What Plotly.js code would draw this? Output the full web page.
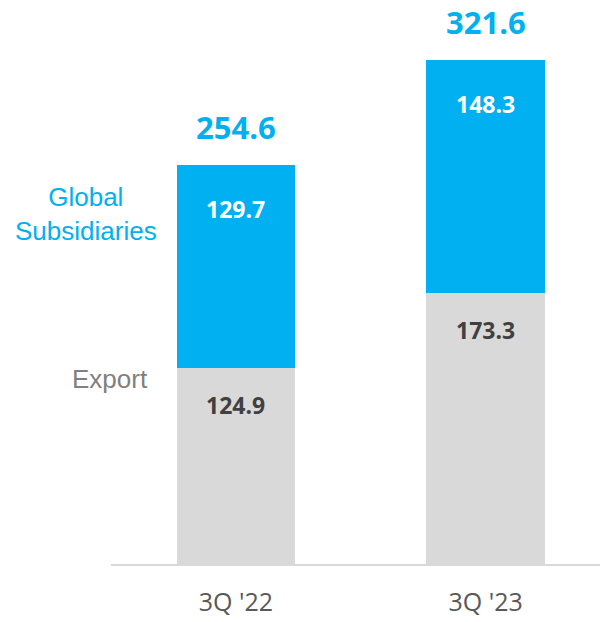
<!DOCTYPE html>
<html>
<head>
<meta charset="utf-8">
<script src="https://cdn.plot.ly/plotly-3.0.1.min.js"></script>
<style>html,body{margin:0;padding:0;background:#fff;}#chart{width:600px;height:622px;}</style>
</head>
<body>
<div id="chart"></div>
<script>
const categories = ["3Q '22", "3Q '23"];
const exportVals = [124.9, 173.3];
const globalVals = [129.7, 148.3];
const totals = [254.6, 321.6];
const seriesNames = ["Export", "Global Subsidiaries"];

const BLUE = '#00b0f0', GREY = '#d9d9d9';

const traces = [
  {type:'bar', x:categories, y:exportVals, name:seriesNames[0], marker:{color:GREY}, width:0.475, hoverinfo:'skip'},
  {type:'bar', x:categories, y:globalVals, name:seriesNames[1], marker:{color:BLUE}, width:0.475, hoverinfo:'skip'}
];

const annotations = [];
categories.forEach((c,i)=>{
  annotations.push({x:c, y:exportVals[i], xref:'x', yref:'y', text:exportVals[i].toFixed(1), showarrow:false,
    yanchor:'middle', yshift:-37, font:{family:'Open Sans', size:23, color:'#404040', weight:700}});
  annotations.push({x:c, y:exportVals[i]+globalVals[i], xref:'x', yref:'y', text:globalVals[i].toFixed(1), showarrow:false,
    yanchor:'middle', yshift:-44, font:{family:'Open Sans', size:23, color:'#ffffff', weight:700}});
  annotations.push({x:c, y:totals[i], xref:'x', yref:'y', text:totals[i].toFixed(1), showarrow:false,
    yanchor:'middle', yshift:38, font:{family:'Open Sans', size:31, color:BLUE, weight:700}});
});
annotations.push({xref:'paper', yref:'paper', x:(86-111)/489, y:(564-214)/564, xanchor:'center', yanchor:'middle',
  text:'Global<br>Subsidiaries', showarrow:false, align:'center',
  font:{family:'Liberation Sans, Arial', size:26, color:BLUE}});
annotations.push({xref:'paper', yref:'paper', x:(110-111)/489, y:(564-379)/564, xanchor:'center', yanchor:'middle',
  text:'Export', showarrow:false, font:{family:'Liberation Sans, Arial', size:26, color:'#808080'}});

const layout = {
  width:600, height:622,
  margin:{l:111, r:0, t:0, b:58},
  barmode:'stack',
  showlegend:false,
  paper_bgcolor:'#fff', plot_bgcolor:'#fff',
  xaxis:{type:'category', range:[-0.5, 1.458], showline:true, linecolor:'#d9d9d9', linewidth:2,
    ticks:'', showgrid:false, zeroline:false, ticklabelstandoff:15,
    tickfont:{family:'Open Sans', size:25, color:'#595959'}, fixedrange:true},
  yaxis:{range:[0, 360], visible:false, showgrid:false, zeroline:false, fixedrange:true},
  annotations:annotations
};

Plotly.newPlot('chart', traces, layout, {displayModeBar:false, staticPlot:true});
</script>
</body>
</html>
